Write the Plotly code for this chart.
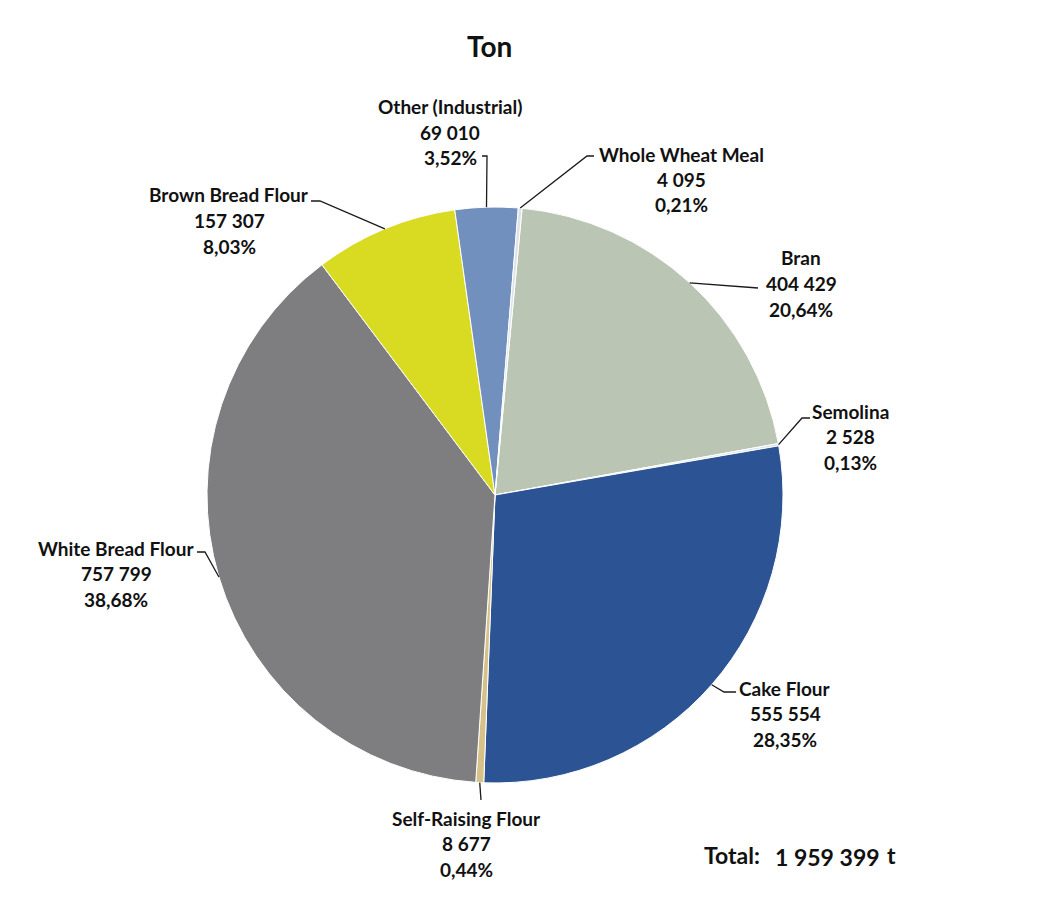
import math
import plotly.graph_objects as go

# ---- data ----
categories = ["Bran", "Semolina", "Cake Flour", "Self-Raising Flour",
              "White Bread Flour", "Brown Bread Flour", "Other (Industrial)", "Whole Wheat Meal"]
tons = [404429, 2528, 555554, 8677, 757799, 157307, 69010, 4095]
colors = ["#BAC5B3", "#DCE2E8", "#2C5494", "#D6C288",
          "#7E7D7F", "#D9DA22", "#7290BE", "#DCE2E8"]
title_text = "Ton"
total_label = "Total:"
unit_label = "t"

W, H = 1063, 902
OFF = 8  # page body margin in the browser
CX, CY, R = 495, 495, 288
ROT = 5.4  # degrees, start of first slice clockwise from 12 o'clock

FONT = "Lato, 'Open Sans', sans-serif"

def px(x):
    return (x - OFF) / W

def py(y):
    return 1 - (y - OFF) / H

def fmt_int(v):
    return f"{v:,}".replace(",", " ")

def fmt_pct(p):
    return f"{p:.2f}".replace(".", ",") + "%"

total = sum(tons)

fig = go.Figure(go.Pie(
    labels=categories, values=tons, sort=False, direction="clockwise",
    rotation=ROT, marker=dict(colors=colors, line=dict(color="white", width=1)),
    textinfo="none", hoverinfo="label+value+percent", showlegend=False,
    domain=dict(x=[px(CX - R), px(CX + R)], y=[py(CY + R), py(CY - R)]),
))

# label layout (pixel positions of text block centre, and leader elbow/end points)
label_layout = {
    "Other (Industrial)": dict(x=450, y=107, pts=[(487, 156), (482, 156)]),
    "Whole Wheat Meal": dict(x=681, y=154, pts=[(587, 156), (594, 156)]),
    "Bran": dict(x=801, y=258, pts=[(758, 288)]),
    "Semolina": dict(x=850, y=411, pts=[(802, 418), (810, 418)]),
    "Cake Flour": dict(x=785, y=688, pts=[(724, 692), (736, 692)]),
    "Self-Raising Flour": dict(x=466, y=818, pts=[(481, 800)]),
    "White Bread Flour": dict(x=116, y=548, pts=[(205, 552), (197, 552)]),
    "Brown Bread Flour": dict(x=229, y=195, pts=[(320, 201), (311, 201)]),
}
LINE_GAP = 25.5
FS = 19

annotations = []
shapes = []
cum = 0.0
for cat, v in zip(categories, tons):
    frac = v / total
    mid = ROT + (cum + frac / 2) * 360
    cum += frac
    a = math.radians(mid)
    ex, ey = CX + R * math.sin(a), CY - R * math.cos(a)
    lay = label_layout[cat]
    path_pts = [(ex, ey)] + lay["pts"]
    d = "M " + " L ".join(f"{px(x):.5f},{py(y):.5f}" for x, y in path_pts)
    shapes.append(dict(type="path", xref="paper", yref="paper", path=d,
                       line=dict(color="#1a1a1a", width=1.3)))
    lines = [cat, fmt_int(v), fmt_pct(frac * 100)]
    for i, t in enumerate(lines):
        annotations.append(dict(
            text=f"<b>{t}</b>", x=px(lay["x"]), y=py(lay["y"] + i * LINE_GAP),
            xref="paper", yref="paper", xanchor="center", yanchor="middle",
            showarrow=False, font=dict(family=FONT, size=FS, color="#111111")))

annotations.append(dict(text=f"<b>{title_text}</b>", x=px(489), y=py(46),
                        xref="paper", yref="paper", xanchor="center", yanchor="middle",
                        showarrow=False, font=dict(family=FONT, size=28, color="#111111")))
annotations.append(dict(text=f"<b>{total_label}</b>", x=px(702), y=py(855),
                        xref="paper", yref="paper", xanchor="left", yanchor="middle",
                        showarrow=False, font=dict(family=FONT, size=23, color="#111111")))
annotations.append(dict(text=f"<b>{fmt_int(total)}</b>", x=px(773), y=py(857),
                        xref="paper", yref="paper", xanchor="left", yanchor="middle",
                        showarrow=False, font=dict(family=FONT, size=23, color="#111111")))
annotations.append(dict(text=f"<b>{unit_label}</b>", x=px(885), y=py(855),
                        xref="paper", yref="paper", xanchor="left", yanchor="middle",
                        showarrow=False, font=dict(family=FONT, size=23, color="#111111")))

fig.update_layout(
    width=W, height=H, margin=dict(l=0, r=0, t=0, b=0),
    paper_bgcolor="white", plot_bgcolor="white",
    annotations=annotations, shapes=shapes,
)

fig.write_html("out.html")
